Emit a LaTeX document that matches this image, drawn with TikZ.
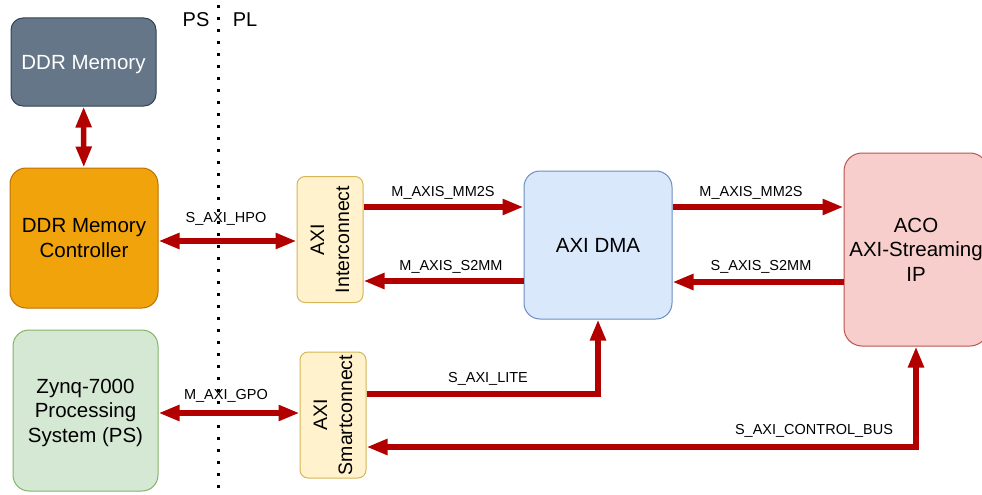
\documentclass[tikz,border=0pt]{standalone}
\usepackage{fontspec}
\setmainfont{Liberation Sans}
\usetikzlibrary{arrows.meta}

\definecolor{busred}{HTML}{B20000}
\definecolor{memfill}{HTML}{647687}
\definecolor{memdraw}{HTML}{314354}
\definecolor{ctrlfill}{HTML}{F0A30A}
\definecolor{ctrldraw}{HTML}{BD7000}
\definecolor{psfill}{HTML}{D5E8D4}
\definecolor{psdraw}{HTML}{82B366}
\definecolor{icfill}{HTML}{FFF2CC}
\definecolor{icdraw}{HTML}{D6B656}
\definecolor{dmafill}{HTML}{DAE8FC}
\definecolor{dmadraw}{HTML}{6C8EBF}
\definecolor{acofill}{HTML}{F8CECC}
\definecolor{acodraw}{HTML}{B85450}

\tikzset{
  block/.style={draw, line width=1pt, rounded corners=16pt, align=center,
    inner sep=0pt, text depth=0pt, font=\fontsize{20.5}{24.5}\selectfont},
  smallbox/.style={draw=icdraw, fill=icfill, line width=1pt, rounded corners=8pt,
    minimum width=66pt, minimum height=126pt},
  sidetext/.style={rotate=90, align=center, font=\fontsize{19.5}{25}\selectfont},
  lbl/.style={font=\fontsize{14.5}{17}\selectfont, inner sep=0pt},
  bus/.style={draw=busred, line width=5.5pt, -{Triangle[length=21pt,width=15pt]}},
  busboth/.style={draw=busred, line width=5.5pt,
    {Triangle[length=21pt,width=15pt]}-{Triangle[length=21pt,width=15pt]}},
}

\begin{document}
\begin{tikzpicture}[x=1pt, y=-1pt]
    \path[use as bounding box] (0,0) rectangle (982,495);
    \clip (0,0) rectangle (982,495);

    % PS / PL border
    \draw[dash pattern=on 3pt off 9pt, line width=3pt] (218,5) -- (218,495);
    \node[font=\fontsize{20}{24}\selectfont] (ps) at (196,20) {PS};
    \node[font=\fontsize{20}{24}\selectfont] (pl) at (245,20) {PL};

    % Blocks
    \node[block, fill=memfill, draw=memdraw, text=white, rounded corners=12pt,
      minimum width=145pt, minimum height=88pt] (mem) at (83.5,62) {DDR Memory};
    \node[block, fill=ctrlfill, draw=ctrldraw,
      minimum width=148pt, minimum height=140pt] (ctrl) at (84,238) {DDR Memory\\Controller};
    \node[block, fill=psfill, draw=psdraw,
      minimum width=145pt, minimum height=161pt] (zynq) at (85.5,410.5) {Zynq-7000\\Processing\\System (PS)};
    \node[block, fill=dmafill, draw=dmadraw,
      minimum width=148pt, minimum height=148pt] (dma) at (598,245) {AXI DMA};
    \node[block, fill=acofill, draw=acodraw, rounded corners=18pt,
      minimum width=144pt, minimum height=193pt] (aco) at (916,249.5) {ACO\\AXI-Streaming\\IP};

    % Interconnects
    \node[smallbox] (ic) at (330,239.5) {};
    \node[sidetext] (ic-text) at (ic) {AXI\\Interconnect};
    \node[smallbox] (sc) at (333,415) {};
    \node[sidetext] (sc-text) at (sc) {AXI\\Smartconnect};

    % Buses
    \draw[busboth] (mem) -- (ctrl);
    \draw[busboth] (ctrl.east |- 0,241) -- (ic.west |- 0,241);
    \draw[busboth] (zynq.east |- 0,413) -- (sc.west |- 0,413);
    \draw[bus] (ic.east |- 0,207) -- (dma.west |- 0,207);
    \draw[bus] (dma.west |- 0,281) -- (ic.east |- 0,281);
    \draw[bus] (dma.east |- 0,207) -- (aco.west |- 0,207);
    \draw[bus] (aco.west |- 0,282) -- (dma.east |- 0,282);
    \draw[bus] (sc.east |- 0,394) -| (dma.south);
    \draw[busboth] (sc.east |- 0,447) -| (aco.south);

    % Bus labels
    \node[lbl] (l-hpo) at (226,219) {S\_AXI\_HPO};
    \node[lbl] (l-gpo) at (226,396) {M\_AXI\_GPO};
    \node[lbl] (l-mm2s) at (443,193) {M\_AXIS\_MM2S};
    \node[lbl] (l-s2mm) at (451,267) {M\_AXIS\_S2MM};
    \node[lbl] (l-ipmm2s) at (751,193) {M\_AXIS\_MM2S};
    \node[lbl] (l-ips2mm) at (761,267) {S\_AXIS\_S2MM};
    \node[lbl] (l-lite) at (488,379) {S\_AXI\_LITE};
    \node[lbl] (l-ctrl) at (814,431) {S\_AXI\_CONTROL\_BUS};

\end{tikzpicture}
\end{document}
